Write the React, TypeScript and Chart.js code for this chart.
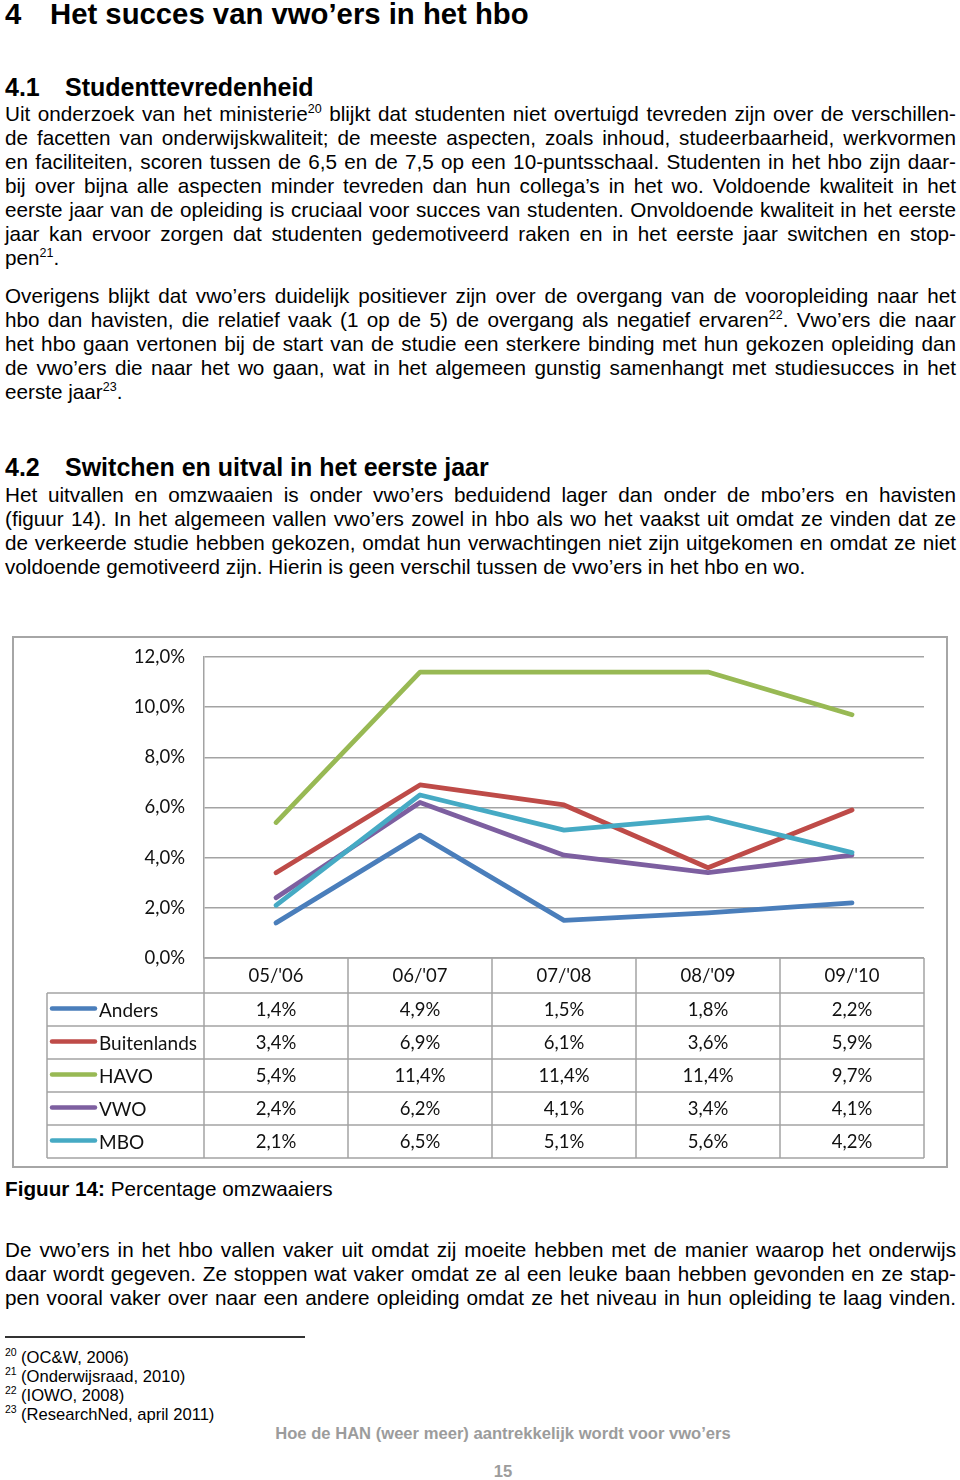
import React, { useEffect, useRef } from "react";
import { Chart, registerables } from "chart.js";

Chart.register(...registerables);

// ---------- data ----------
const CATEGORIES = ["05/'06", "06/'07", "07/'08", "08/'09", "09/'10"];
const SERIES_NAMES = ["Anders", "Buitenlands", "HAVO", "VWO", "MBO"];
const ANDERS = [1.4, 4.9, 1.5, 1.8, 2.2];
const BUITENLANDS = [3.4, 6.9, 6.1, 3.6, 5.9];
const HAVO = [5.4, 11.4, 11.4, 11.4, 9.7];
const VWO = [2.4, 6.2, 4.1, 3.4, 4.1];
const MBO = [2.1, 6.5, 5.1, 5.6, 4.2];
const SERIES_COLORS = ["#4A7EBB", "#BE4B48", "#98B954", "#7D5FA0", "#46AAC4"];
const Y_MIN = 0;
const Y_MAX = 12;
const Y_STEP = 2;

const SERIES_VALUES = [ANDERS, BUITENLANDS, HAVO, VWO, MBO];

const GRID = "#a3a3a3";
const CHART_FONT = "Lato, 'Open Sans', sans-serif";

function pct(v: number): string {
  return v.toFixed(1).replace(".", ",") + "%";
}

const dataTablePlugin = {
  id: "dataTable",
  afterDraw(chart: any) {
    const { ctx, chartArea, scales } = chart;
    const x = scales.x;
    const L = chartArea.left;
    const R = chartArea.right;
    const top = chartArea.bottom;
    const n = CATEGORIES.length;
    const colW = (R - L) / n;
    const headerH = 35;
    const rowH = 33;
    const legendLeft = 33;
    const rowsTop = top + headerH;
    const bottom = rowsTop + rowH * SERIES_NAMES.length;

    ctx.save();
    ctx.strokeStyle = GRID;
    ctx.lineWidth = 1.5;
    ctx.beginPath();
    ctx.moveTo(L, top);
    ctx.lineTo(R, top);
    ctx.stroke();
    for (let i = 0; i <= SERIES_NAMES.length; i++) {
      const yy = rowsTop + i * rowH;
      ctx.beginPath();
      ctx.moveTo(legendLeft, yy);
      ctx.lineTo(R, yy);
      ctx.stroke();
    }
    for (let c = 0; c <= n; c++) {
      const xx = L + c * colW;
      ctx.beginPath();
      ctx.moveTo(xx, top);
      ctx.lineTo(xx, bottom);
      ctx.stroke();
    }
    ctx.beginPath();
    ctx.moveTo(legendLeft, rowsTop);
    ctx.lineTo(legendLeft, bottom);
    ctx.stroke();

    ctx.fillStyle = "#111";
    ctx.font = `18.5px ${CHART_FONT}`;
    ctx.textAlign = "center";
    ctx.textBaseline = "middle";
    CATEGORIES.forEach((cat, i) => {
      ctx.fillText(cat, x.getPixelForValue(i), top + headerH / 2 + 1);
    });

    SERIES_NAMES.forEach((name, r) => {
      const cy = rowsTop + r * rowH + rowH / 2;
      ctx.strokeStyle = SERIES_COLORS[r];
      ctx.lineWidth = 4.5;
      ctx.lineCap = "round";
      ctx.beginPath();
      ctx.moveTo(legendLeft + 5, cy - 1);
      ctx.lineTo(legendLeft + 48, cy - 1);
      ctx.stroke();
      ctx.fillStyle = "#111";
      ctx.textAlign = "left";
      ctx.font = `19px ${CHART_FONT}`;
      ctx.fillText(name, legendLeft + 52, cy + 1);
      ctx.font = `18.5px ${CHART_FONT}`;
      ctx.textAlign = "center";
      SERIES_VALUES[r].forEach((v, i) => {
        ctx.fillText(pct(v), x.getPixelForValue(i), cy + 1);
      });
    });
    ctx.restore();
  },
};

function OmzwaaiersChart() {
  const ref = useRef<HTMLCanvasElement>(null);
  useEffect(() => {
    if (!ref.current) return;
    const chart = new Chart(ref.current, {
      type: "line",
      data: {
        labels: CATEGORIES,
        datasets: SERIES_NAMES.map((name, i) => ({
          label: name,
          data: SERIES_VALUES[i],
          borderColor: SERIES_COLORS[i],
          backgroundColor: SERIES_COLORS[i],
          borderWidth: 4.8,
          pointRadius: 0,
          tension: 0,
          borderCapStyle: "round" as const,
          borderJoinStyle: "round" as const,
          order: SERIES_NAMES.length - i,
        })),
      },
      options: {
        responsive: false,
        animation: false,
        devicePixelRatio: 1,
        layout: { padding: { left: 0, right: 22, top: 19, bottom: 208 } },
        plugins: {
          legend: { display: false },
          tooltip: { enabled: false },
        },
        scales: {
          x: {
            display: false,
            offset: true,
          },
          y: {
            min: Y_MIN,
            max: Y_MAX,
            ticks: {
              stepSize: Y_STEP,
              padding: 19,
              color: "#111",
              font: { family: CHART_FONT, size: 18.5 },
              callback: (v: any) => pct(Number(v)),
            },
            grid: { color: GRID, lineWidth: 1.5, drawTicks: false },
            border: { display: true, color: GRID, width: 1.5 },
            afterFit: (scale: any) => {
              scale.width = 190;
              scale.paddingTop = 0;
              scale.paddingBottom = 0;
            },
          },
        },
      },
      plugins: [dataTablePlugin],
    });
    return () => chart.destroy();
  }, []);
  return (
    <div
      style={{
        position: "absolute",
        left: 12,
        top: 636,
        width: 936,
        height: 532,
        border: "2px solid #a6a6a6",
        boxSizing: "border-box",
        background: "#fff",
      }}
    >
      <canvas ref={ref} width={932} height={528} style={{ display: "block" }} />
    </div>
  );
}

// ---------- text helpers ----------
type LineProps = {
  y: number;
  fs?: number;
  lh?: number;
  left?: number;
  width?: number;
  justify?: boolean;
  bold?: boolean;
  color?: string;
  center?: boolean;
  children: React.ReactNode;
};

function TextLine({
  y,
  fs = 20.7,
  lh = 24,
  left = 5,
  width = 951,
  justify = false,
  bold = false,
  color = "#000",
  center = false,
  children,
}: LineProps) {
  const asc = 0.905;
  const desc = 0.212;
  const top = y - ((lh - (asc + desc) * fs) / 2 + asc * fs);
  const align = center ? "center" : justify ? "justify" : "left";
  return (
    <div
      style={{
        position: "absolute",
        left,
        top,
        width,
        height: lh,
        lineHeight: lh + "px",
        fontSize: fs,
        fontWeight: bold ? "bold" : "normal",
        color,
        textAlign: align as any,
        textAlignLast: align as any,
        whiteSpace: justify ? "normal" : "nowrap",
      }}
    >
      {children}
    </div>
  );
}

function Sup({ n, size = 12.5, raise = 8 }: { n: string; size?: number; raise?: number }) {
  return (
    <span style={{ fontSize: size, position: "relative", top: -raise }}>{n}</span>
  );
}

export default function App() {
  const P1 = 121;
  const P2 = 303;
  const P3 = 502;
  const P4 = 1257;
  const FN = 1363;
  return (
    <div
      style={{
        position: "relative",
        width: 960,
        height: 1480,
        fontFamily: '"Liberation Sans", Arial, sans-serif',
        color: "#000",
        background: "#fff",
        overflow: "hidden",
      }}
    >
      <style>{`body{margin:0;background:#fff}`}</style>

      <TextLine y={23.5} fs={29.3} lh={33} bold>4</TextLine>
      <TextLine y={23.5} fs={29.3} lh={33} left={50} width={900} bold>
        Het succes van vwo’ers in het hbo
      </TextLine>

      <TextLine y={96} fs={25} lh={29} bold>4.1</TextLine>
      <TextLine y={96} fs={25} lh={29} left={65} width={880} bold>
        Studenttevredenheid
      </TextLine>

      <TextLine y={P1} justify>
        Uit onderzoek van het ministerie<Sup n="20" /> blijkt dat studenten niet overtuigd tevreden zijn over de verschillen-
      </TextLine>
      <TextLine y={P1 + 24} justify>
        de facetten van onderwijskwaliteit; de meeste aspecten, zoals inhoud, studeerbaarheid, werkvormen
      </TextLine>
      <TextLine y={P1 + 48} justify>
        en faciliteiten, scoren tussen de 6,5 en de 7,5 op een 10-puntsschaal. Studenten in het hbo zijn daar-
      </TextLine>
      <TextLine y={P1 + 72} justify>
        bij over bijna alle aspecten minder tevreden dan hun collega’s in het wo. Voldoende kwaliteit in het
      </TextLine>
      <TextLine y={P1 + 96} justify>
        eerste jaar van de opleiding is cruciaal voor succes van studenten. Onvoldoende kwaliteit in het eerste
      </TextLine>
      <TextLine y={P1 + 120} justify>
        jaar kan ervoor zorgen dat studenten gedemotiveerd raken en in het eerste jaar switchen en stop-
      </TextLine>
      <TextLine y={P1 + 144}>
        pen<Sup n="21" />.
      </TextLine>

      <TextLine y={P2} justify>
        Overigens blijkt dat vwo’ers duidelijk positiever zijn over de overgang van de vooropleiding naar het
      </TextLine>
      <TextLine y={P2 + 24} justify>
        hbo dan havisten, die relatief vaak (1 op de 5) de overgang als negatief ervaren<Sup n="22" />. Vwo’ers die naar
      </TextLine>
      <TextLine y={P2 + 48} justify>
        het hbo gaan vertonen bij de start van de studie een sterkere binding met hun gekozen opleiding dan
      </TextLine>
      <TextLine y={P2 + 72} justify>
        de vwo’ers die naar het wo gaan, wat in het algemeen gunstig samenhangt met studiesucces in het
      </TextLine>
      <TextLine y={P2 + 96}>
        eerste jaar<Sup n="23" />.
      </TextLine>

      <TextLine y={476} fs={25} lh={29} bold>4.2</TextLine>
      <TextLine y={476} fs={25} lh={29} left={65} width={880} bold>
        Switchen en uitval in het eerste jaar
      </TextLine>

      <TextLine y={P3} justify>
        Het uitvallen en omzwaaien is onder vwo’ers beduidend lager dan onder de mbo’ers en havisten
      </TextLine>
      <TextLine y={P3 + 24} justify>
        (figuur 14). In het algemeen vallen vwo’ers zowel in hbo als wo het vaakst uit omdat ze vinden dat ze
      </TextLine>
      <TextLine y={P3 + 48} justify>
        de verkeerde studie hebben gekozen, omdat hun verwachtingen niet zijn uitgekomen en omdat ze niet
      </TextLine>
      <TextLine y={P3 + 72}>
        voldoende gemotiveerd zijn. Hierin is geen verschil tussen de vwo’ers in het hbo en wo.
      </TextLine>

      <OmzwaaiersChart />

      <TextLine y={1196}>
        <b>Figuur 14:</b> Percentage omzwaaiers
      </TextLine>

      <TextLine y={P4} justify>
        De vwo’ers in het hbo vallen vaker uit omdat zij moeite hebben met de manier waarop het onderwijs
      </TextLine>
      <TextLine y={P4 + 24} justify>
        daar wordt gegeven. Ze stoppen wat vaker omdat ze al een leuke baan hebben gevonden en ze stap-
      </TextLine>
      <TextLine y={P4 + 48} justify>
        pen vooral vaker over naar een andere opleiding omdat ze het niveau in hun opleiding te laag vinden.
      </TextLine>

      <div
        style={{
          position: "absolute",
          left: 5,
          top: 1336,
          width: 300,
          height: 1.5,
          background: "#333",
        }}
      />

      {[
        ["20", "(OC&W, 2006)"],
        ["21", "(Onderwijsraad, 2010)"],
        ["22", "(IOWO, 2008)"],
        ["23", "(ResearchNed, april 2011)"],
      ].map(([n, t], i) => (
        <React.Fragment key={n}>
          <TextLine y={FN + i * 19 - 7} fs={10.5} lh={12} left={5} width={20}>
            {n}
          </TextLine>
          <TextLine y={FN + i * 19} fs={16.6} lh={19} left={21} width={400}>
            {t}
          </TextLine>
        </React.Fragment>
      ))}

      <TextLine y={1439} fs={16.6} lh={19} left={203} width={600} center bold color="#9c9c9c">
        Hoe de HAN (weer meer) aantrekkelijk wordt voor vwo’ers
      </TextLine>
      <TextLine y={1477} fs={16.6} lh={19} left={403} width={200} center bold color="#9c9c9c">
        15
      </TextLine>
    </div>
  );
}
